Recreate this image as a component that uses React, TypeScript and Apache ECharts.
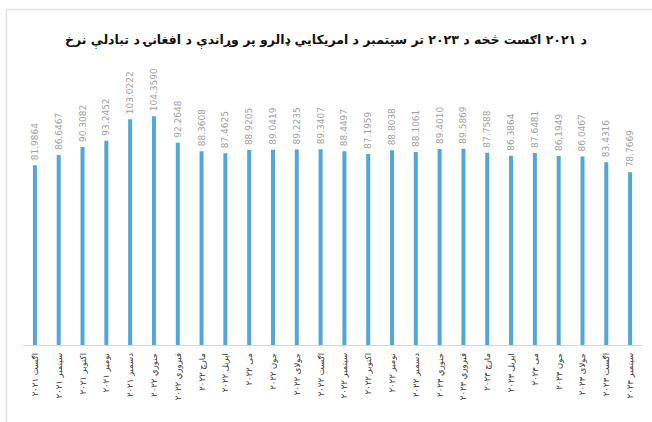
import React, { useEffect, useRef } from "react";
import * as echarts from "echarts";

const months = [
  "اګست ۲۰۲۱", "سپتمبر ۲۰۲۱", "اکتوبر ۲۰۲۱", "نومبر ۲۰۲۱", "دسمبر ۲۰۲۱",
  "جنوري ۲۰۲۲", "فبروري ۲۰۲۲", "مارچ ۲۰۲۲", "اپریل ۲۰۲۲", "می ۲۰۲۲",
  "جون ۲۰۲۲", "جولای ۲۰۲۲", "اګست ۲۰۲۲", "سپتمبر ۲۰۲۲", "اکتوبر ۲۰۲۲",
  "نومبر ۲۰۲۲", "دسمبر ۲۰۲۲", "جنوري ۲۰۲۳", "فبروري ۲۰۲۳", "مارچ ۲۰۲۳",
  "اپریل ۲۰۲۳", "می ۲۰۲۳", "جون ۲۰۲۳", "جولای ۲۰۲۳", "اګست ۲۰۲۳",
  "سپتمبر ۲۰۲۳",
];

const rates = [
  81.9864, 86.6467, 90.3082, 93.2452, 103.0222, 104.359, 92.2648, 88.3608,
  87.4625, 88.9205, 89.0419, 89.2235, 89.3407, 88.4497, 87.1959, 88.8038,
  88.1061, 89.401, 89.5869, 87.7588, 86.3864, 87.6481, 86.1949, 86.0467,
  83.4316, 78.7669,
];

const rateLabels = [
  "81.9864", "86.6467", "90.3082", "93.2452", "103.0222", "104.3590",
  "92.2648", "88.3608", "87.4625", "88.9205", "89.0419", "89.2235",
  "89.3407", "88.4497", "87.1959", "88.8038", "88.1061", "89.4010",
  "89.5869", "87.7588", "86.3864", "87.6481", "86.1949", "86.0467",
  "83.4316", "78.7669",
];

const title =
  "د ۲۰۲۱ اګست څخه د ۲۰۲۳ تر سپتمبر د امریکایي ډالرو پر وړاندې د افغانۍ د تبادلې نرخ";

export default function App() {
  const ref = useRef<HTMLDivElement>(null);
  useEffect(() => {
    if (!ref.current) return;
    const chart = echarts.init(ref.current, null, { renderer: "svg" });
    chart.setOption({
      animation: false,
      backgroundColor: "#ffffff",
      graphic: [
        {
          type: "rect",
          shape: { x: 6.5, y: 9.5, width: 700, height: 500 },
          style: { fill: "none", stroke: "#e3e3e3", lineWidth: 1.5 },
          z: -1,
        },
      ],
      title: {
        text: title,
        left: "center",
        top: 28,
        textStyle: {
          fontFamily: "DejaVu Sans",
          fontWeight: "bold",
          fontSize: 12.5,
          color: "#111",
        },
      },
      grid: { left: 23, right: 10, top: 82, bottom: 77, containLabel: false },
      xAxis: {
        type: "category",
        data: months,
        axisLine: { lineStyle: { color: "#d9d9d9", width: 1 } },
        axisTick: { show: false },
        axisLabel: {
          interval: 0,
          rotate: 90,
          fontSize: 8.5,
          color: "#333",
          fontFamily: "DejaVu Sans",
          margin: 8,
        },
      },
      yAxis: {
        type: "value",
        min: 0,
        max: 120,
        show: false,
        splitLine: { show: false },
      },
      series: [
        {
          type: "bar",
          data: rates,
          barWidth: 4,
          itemStyle: { color: "#52a7d8" },
          label: {
            show: true,
            position: "top",
            rotate: 90,
            align: "left",
            verticalAlign: "middle",
            distance: 5,
            fontSize: 9,
            color: "#a0a0a0",
            fontFamily: "DejaVu Sans",
            formatter: (p: any) => rateLabels[p.dataIndex],
          },
        },
      ],
    });
    return () => chart.dispose();
  }, []);
  return (
    <div
      ref={ref}
      style={{ position: "fixed", left: 0, top: 0, width: 652, height: 422 }}
    />
  );
}
